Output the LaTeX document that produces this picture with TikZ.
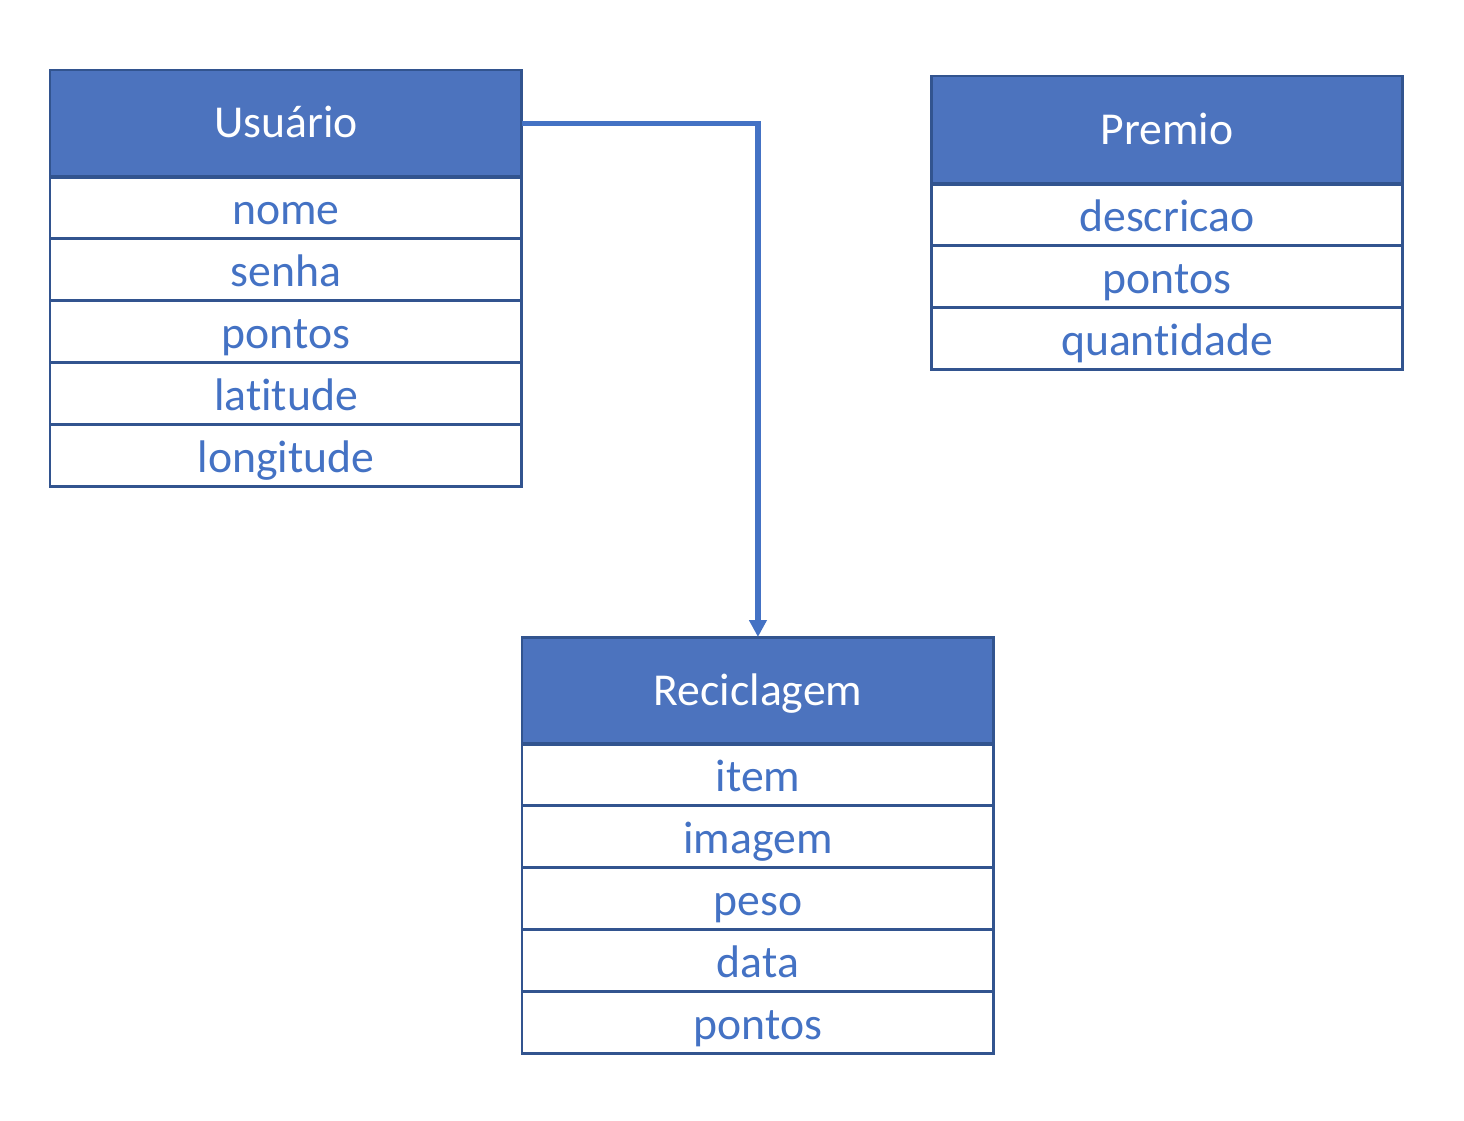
\documentclass[tikz,border=0pt]{standalone}
\usepackage{fontspec}
\setmainfont{Carlito}[Ligatures=NoCommon]
\usetikzlibrary{positioning}
\usetikzlibrary{arrows.meta}

\definecolor{headblue}{RGB}{76,115,190}
\definecolor{edgeblue}{RGB}{50,84,143}
\definecolor{textblue}{RGB}{68,114,196}

\begin{document}
\begin{tikzpicture}[x=0.02cm,y=-0.02cm,
		head/.style={draw=edgeblue,line width=1.7pt,fill=headblue,text=white,minimum width=9.44cm,minimum height=2.14cm,inner sep=0pt,outer sep=0pt,text height=0.78cm,text depth=0.2cm,font=\fontsize{26}{30}\selectfont},
		field/.style={draw=edgeblue,line width=1.7pt,fill=white,text=textblue,minimum width=9.44cm,minimum height=1.24cm,inner sep=0pt,outer sep=0pt,text height=0.88cm,text depth=0.2cm,font=\fontsize{26}{30}\selectfont},
		sep/.style={draw=edgeblue,line width=2.8pt},
		link/.style={draw=textblue,line width=3pt,-{Triangle[length=0.34cm,width=0.34cm]}}]
		\useasboundingbox (0,0) rectangle (1464,1120);
		% Usuario
		\node [head,anchor=north west] (usuario) at (50,70) {Usuário};
		\node [field,below=0pt of usuario] (nome) {nome};
		\node [field,below=0pt of nome] (senha) {senha};
		\node [field,below=0pt of senha] (upontos) {pontos};
		\node [field,below=0pt of upontos] (latitude) {latitude};
		\node [field,below=0pt of latitude] (longitude) {longitude};
		% Premio
		\node [head,anchor=north west,minimum height=2.16cm] (premio) at (931,76) {Premio};
		\node [field,below=0pt of premio] (descricao) {descricao};
		\node [field,below=0pt of descricao] (ppontos) {pontos};
		\node [field,below=0pt of ppontos] (quantidade) {quantidade};
		% Reciclagem
		\node [head,anchor=north west] (reciclagem) at (522,637) {Reciclagem};
		\node [field,below=0pt of reciclagem] (item) {item};
		\node [field,below=0pt of item] (imagem) {imagem};
		\node [field,below=0pt of imagem] (peso) {peso};
		\node [field,below=0pt of peso] (data) {data};
		\node [field,below=0pt of data] (rpontos) {pontos};
		% linha mais grossa sob o titulo
		\draw [sep] (usuario.south west) -- (usuario.south east);
		\draw [sep] (premio.south west) -- (premio.south east);
		\draw [sep] (reciclagem.south west) -- (reciclagem.south east);
		% ligacao
		\draw [link] (usuario.east) -| (reciclagem.north);
	\end{tikzpicture}
\end{document}
